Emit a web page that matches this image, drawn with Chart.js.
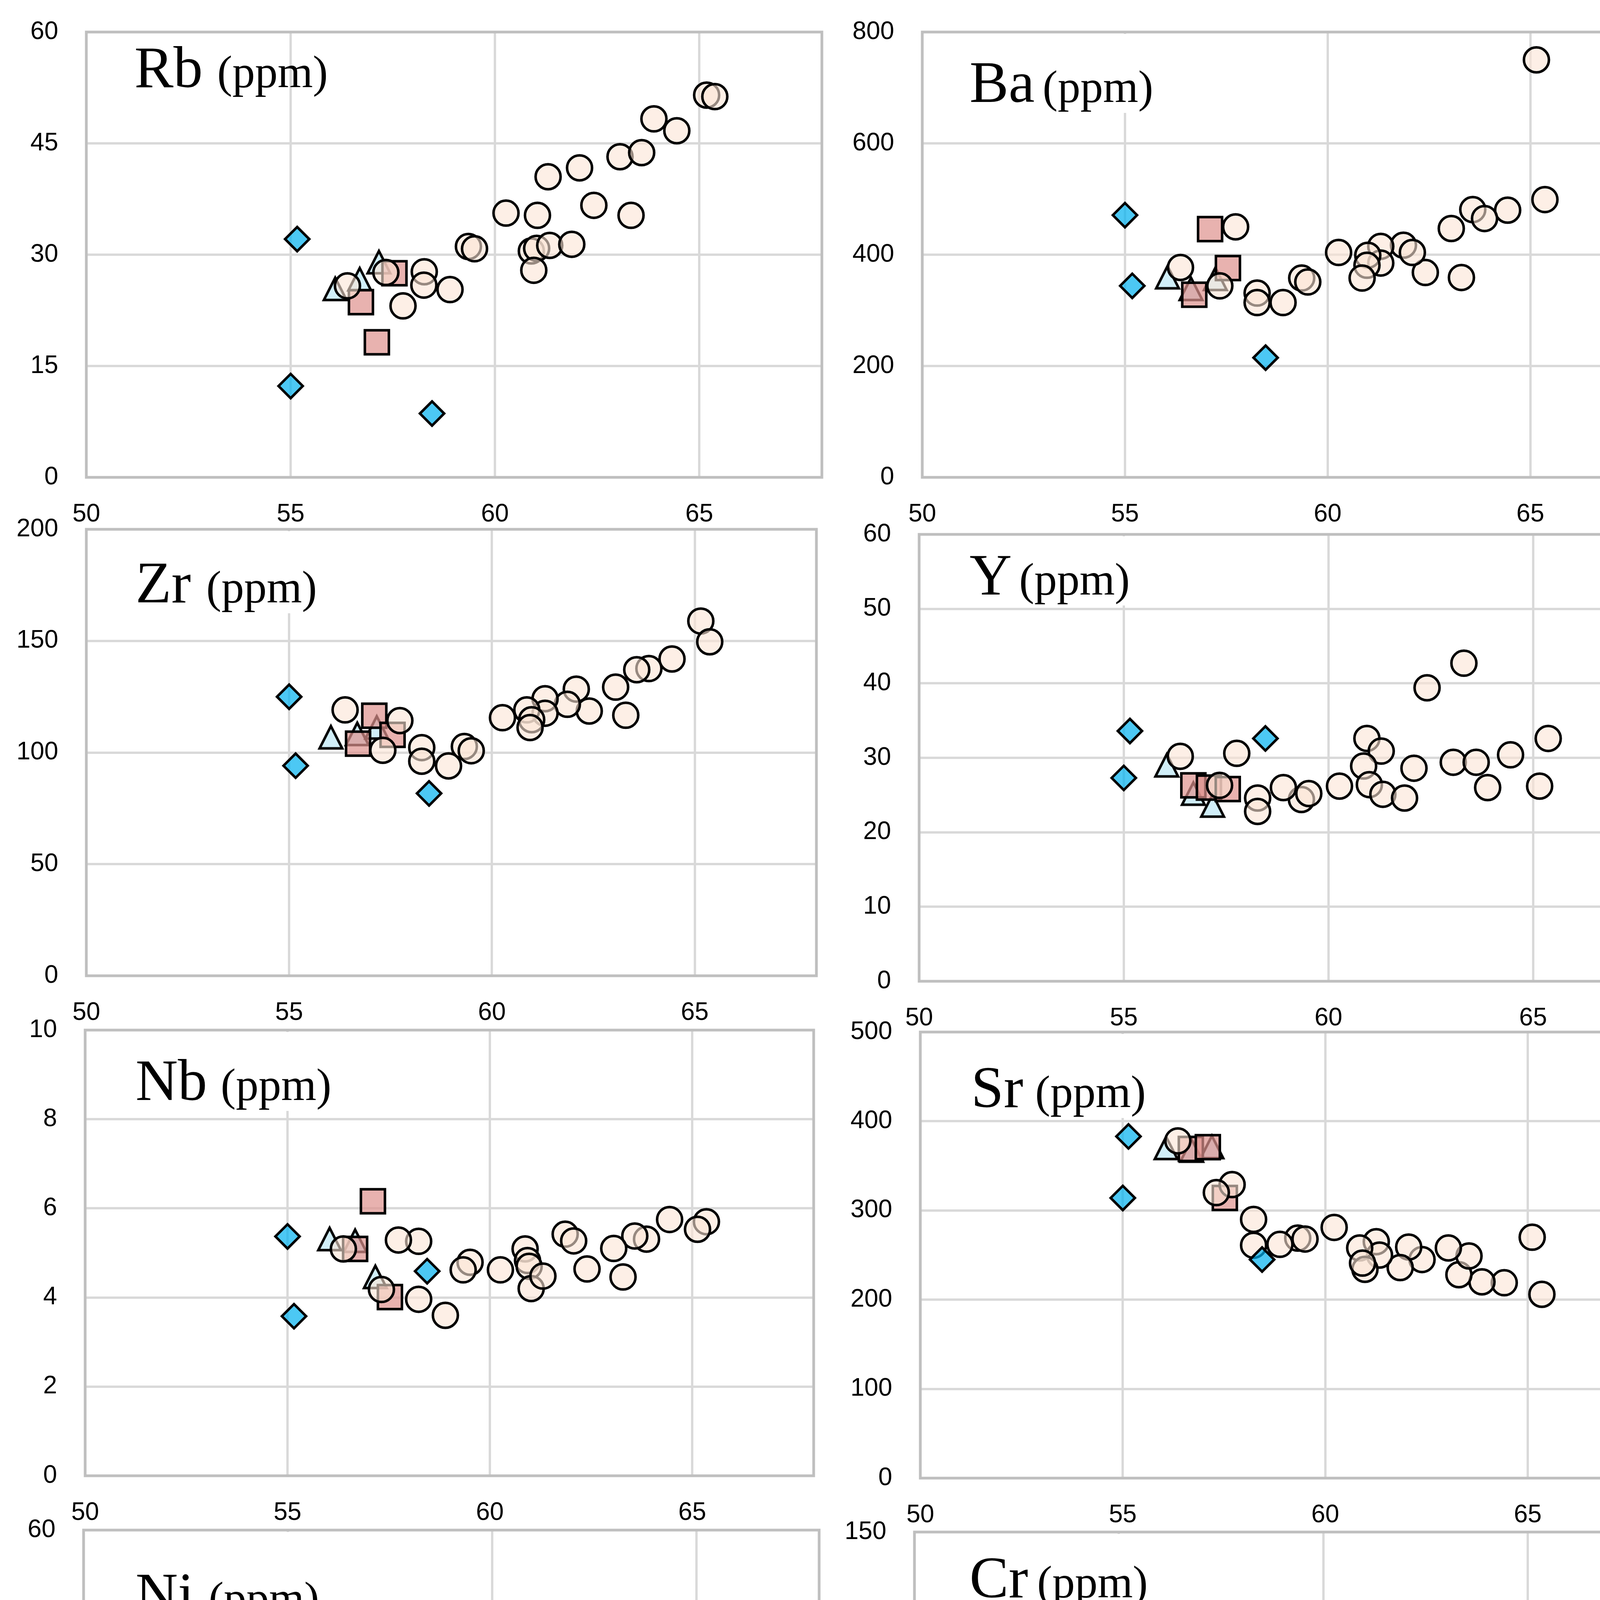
<!DOCTYPE html>
<html><head><meta charset="utf-8">
<script src="https://cdn.jsdelivr.net/npm/chart.js@4.4.1/dist/chart.umd.min.js"></script>
<style>
html,body{margin:0;padding:0;background:#fff;}
body{width:4270px;height:5727px;position:relative;overflow:hidden;}
canvas{position:absolute;}
#ov{position:absolute;left:0;top:0;z-index:10;}
</style></head><body>
<svg id="ov" width="4270" height="5727" xmlns="http://www.w3.org/2000/svg"></svg>
<script>
// ---------- data ----------
const seriesNames = ['CA two px BA to Dac','CA qtz-olv b.g. two px BA','TH qtz-olv b.g. two px BA','TH two px BA to And'];
const xTicks = [50,55,60,65];
const xMin = 50, xMax = 68;

const rbTicks = [0,15,30,45,60];
const rbCA  = [[65.18,51.5],[65.38,51.3],[63.89,48.3],[64.45,46.7],[63.06,43.2],[63.59,43.75],[62.07,41.7],[61.3,40.5],[60.27,35.6],[61.04,35.3],[62.42,36.65],[63.33,35.3],[59.35,31.1],[59.5,30.8],[60.89,30.5],[61.02,30.85],[61.34,31.25],[61.88,31.4],[60.95,27.9],[58.27,27.7],[58.26,25.9],[58.9,25.3],[57.33,27.6],[57.75,23.1],[56.39,25.8]];
const rbSq  = [[57.54,27.5],[56.72,23.6],[57.11,18.2]];
const rbTri = [[56.09,25.5],[56.69,26.8],[57.16,29.1]];
const rbDia = [[55.16,32.1],[55.0,12.3],[58.46,8.6]];

const baTicks = [0,200,400,600,800];
const baCA  = [[65.15,750],[65.36,499],[64.44,480],[63.58,481],[63.87,465],[63.05,447],[63.3,359],[62.41,368],[61.87,417],[62.09,404],[61.31,415],[61.31,385],[60.99,399],[60.97,381],[60.85,358],[60.27,404],[59.36,358],[59.51,351],[58.9,314],[58.26,331],[58.26,314],[57.73,450],[57.34,344],[56.37,377]];
const baSq  = [[57.1,446],[57.54,376],[56.71,328]];
const baTri = [[56.05,361],[56.63,340],[57.23,358]];
const baDia = [[55.0,471],[55.18,344],[58.47,215]];

const zrTicks = [0,50,100,150,200];
const zrCA  = [[65.15,158.9],[65.37,149.6],[64.44,141.9],[63.87,137.6],[63.57,137.1],[63.05,129.3],[63.3,116.7],[62.4,118.6],[62.08,128.4],[61.86,121.6],[61.31,124.1],[61.31,117.6],[60.86,119.1],[60.98,114.7],[60.94,111.2],[60.26,115.6],[59.32,102.7],[59.49,100.8],[58.93,94],[58.27,102.2],[58.27,96.1],[57.73,114.3],[57.31,101],[56.38,119.1]];
const zrSq  = [[57.1,116.5],[57.55,107.9],[56.7,104]];
const zrTri = [[56.03,107.2],[56.68,108.7],[57.16,111.6]];
const zrDia = [[55.0,125],[55.16,94.1],[58.45,81.7]];

const yTicks = [0,10,20,30,40,50,60];
const yCA  = [[63.31,42.7],[62.41,39.4],[65.37,32.6],[60.94,32.6],[61.29,30.9],[60.86,28.9],[61.0,26.4],[61.33,25.1],[61.86,24.6],[62.09,28.6],[63.05,29.4],[63.61,29.4],[64.45,30.4],[63.89,26.0],[65.16,26.2],[60.27,26.2],[59.34,24.4],[59.52,25.2],[58.9,26.0],[58.27,24.6],[58.27,22.8],[57.76,30.6],[57.34,26.3],[56.38,30.2]];
const ySq  = [[56.7,26.3],[57.08,26.0],[57.54,25.8]];
const yTri = [[56.05,29.1],[56.7,25.3],[57.17,23.7]];
const yDia = [[55.15,33.6],[55.0,27.3],[58.46,32.6]];

const nbTicks = [0,2,4,6,8,10];
const nbCA  = [[64.44,5.75],[65.35,5.7],[65.13,5.53],[63.87,5.31],[63.58,5.38],[63.06,5.1],[63.29,4.46],[62.4,4.64],[61.86,5.42],[62.07,5.27],[60.87,5.09],[60.93,4.83],[60.97,4.7],[61.02,4.2],[61.31,4.48],[60.26,4.62],[59.51,4.79],[59.34,4.62],[58.9,3.6],[58.24,3.96],[58.24,5.26],[57.74,5.29],[57.32,4.18],[56.38,5.09]];
const nbSq  = [[57.11,6.16],[56.67,5.09],[57.53,4.01]];
const nbTri = [[56.04,5.33],[56.67,5.29],[57.17,4.48]];
const nbDia = [[55.0,5.37],[55.16,3.58],[58.45,4.59]];

const srTicks = [0,100,200,300,400,500];
const srCA  = [[65.11,270],[65.35,206],[64.42,219],[63.87,220],[63.3,228],[63.55,249],[63.04,258],[62.39,245],[62.06,259],[61.85,236],[61.26,265],[61.34,250],[60.85,258],[60.98,234],[60.92,241],[60.22,281],[59.32,269],[59.5,268],[58.88,262],[58.23,290],[58.23,261],[57.7,329],[57.31,320],[56.36,378]];
const srSq  = [[57.52,314],[56.68,369],[57.1,371]];
const srTri = [[56.07,371],[56.7,368],[57.2,372]];
const srDia = [[55.14,383],[55.0,314],[58.44,245]];

const niTicks = [0,15,30,45,60];
const niCA  = [[58.24,47.3],[57.74,25.6],[56.36,22.6],[57.3,15.9],[58.23,16.7],[59.32,18.3],[59.5,15.0],[58.88,8.1],[60.25,19.9],[61.27,19.3],[60.94,17.7],[62.39,18.2],[62.09,15.8],[60.96,12.8],[61.33,12.8],[60.85,11.3],[61.86,12.75],[63.04,12.2],[63.3,9.5],[63.56,13.4],[63.89,13.7],[64.42,11.7],[65.15,11.5],[65.36,11.8]];
const niSq  = [[57.53,34.9],[56.7,24.8],[57.11,23.4]];
const niTri = [[56.03,26.3],[56.66,17.2],[57.15,22.6]];
const niDia = [[55.0,22.4],[55.15,11.7],[58.47,3.6]];

const crTicks = [0,30,60,90,120,150];
const crCA  = [[63.06,98.9],[56.37,75.8],[58.26,73.5],[57.31,61.5],[62.4,62.1],[63.32,64.0],[65.15,61.2],[63.89,54.2],[64.45,54.2],[57.74,49.8],[58.89,49.8],[59.49,45.9],[60.85,50.1],[61.0,47.0],[62.08,46.5],[58.26,42.1],[61.29,39.9],[59.34,33.2],[60.26,32.1],[63.59,33.0],[65.37,30.4],[60.95,29.5],[61.33,31.3],[61.04,25.6],[61.85,24.9]];
const crSq  = [[56.7,47.1],[57.1,37.5],[57.53,34.7]];
const crTri = [[56.67,50.7],[57.2,47.9],[56.05,32.8]];
const crDia = [[55.0,35.2],[55.16,29.5],[58.5,45.9]];

// ---------- layout ----------
const panels = [
 {name:'Rb', ca:rbCA, sq:rbSq, tri:rbTri, dia:rbDia, yt:rbTicks, L:221, T:82,  R:2104, B:1222, tx:344,  px:556,  ty:223,  box:false},
 {name:'Ba', ca:baCA, sq:baSq, tri:baTri, dia:baDia, yt:baTicks, L:2361,T:82,  R:4229, B:1222, tx:2482, px:2669, ty:261,  box:true},
 {name:'Zr', ca:zrCA, sq:zrSq, tri:zrTri, dia:zrDia, yt:zrTicks, L:221, T:1355,R:2090, B:2498, tx:347,  px:528,  ty:1542, box:true},
 {name:'Y',  ca:yCA,  sq:ySq,  tri:yTri,  dia:yDia,  yt:yTicks,  L:2353,T:1368,R:4239, B:2512, tx:2482, px:2609, ty:1522, box:true},
 {name:'Nb', ca:nbCA, sq:nbSq, tri:nbTri, dia:nbDia, yt:nbTicks, L:218, T:2637,R:2083, B:3778, tx:347,  px:565,  ty:2816, box:true},
 {name:'Sr', ca:srCA, sq:srSq, tri:srTri, dia:srDia, yt:srTicks, L:2356,T:2642,R:4222, B:3784, tx:2486, px:2650, ty:2834, box:true},
 {name:'Ni', ca:niCA, sq:niSq, tri:niTri, dia:niDia, yt:niTicks, L:214, T:3917,R:2097, B:5058, tx:347,  px:534,  ty:4130, box:true},
 {name:'Cr', ca:crCA, sq:crSq, tri:crTri, dia:crDia, yt:crTicks, L:2341,T:3922,R:4225, B:5064, tx:2482, px:2655, ty:4089, box:true}
];
const YW = 200, PT = 130, PR = 60, XH = 150;
const tickFont = {family:"'Liberation Sans', Arial, sans-serif", size:64};
const serif = "'Liberation Serif','Times New Roman',serif";

function triCanvas(){
  const c = document.createElement('canvas'); c.width = 84; c.height = 84;
  const g = c.getContext('2d');
  g.beginPath(); g.moveTo(42,15.5); g.lineTo(71,72.5); g.lineTo(13,72.5); g.closePath();
  g.fillStyle = 'rgba(188,231,245,0.7)'; g.fill();
  g.lineWidth = 6.5; g.strokeStyle = '#000'; g.lineJoin = 'miter'; g.stroke();
  return c;
}
const triImg = triCanvas();

const framePlugin = {
  id:'frame',
  beforeDatasetsDraw(chart){
    const {ctx, chartArea:a} = chart;
    ctx.save(); ctx.strokeStyle = '#bfbfbf'; ctx.lineWidth = 7;
    ctx.strokeRect(a.left, a.top, a.right - a.left, a.bottom - a.top);
    ctx.restore();
  }
};
const toXY = arr => arr.map(p => ({x:p[0], y:p[1]}));

panels.forEach(p => {
  const cv = document.createElement('canvas');
  const w = YW + (p.R - p.L) + PR, h = PT + (p.B - p.T) + XH;
  cv.width = w; cv.height = h;
  cv.style.width = w + 'px'; cv.style.height = h + 'px';
  cv.style.left = (p.L - YW) + 'px'; cv.style.top = (p.T - PT) + 'px';
  document.body.insertBefore(cv, document.getElementById('ov'));
  new Chart(cv, {
    type:'scatter',
    data:{datasets:[
      {label:seriesNames[3], data:toXY(p.dia), order:0, pointStyle:'rectRot', pointRadius:31,
       pointBackgroundColor:'rgba(0,176,240,0.7)', pointBorderColor:'#000', pointBorderWidth:6.5},
      {label:seriesNames[0], data:toXY(p.ca), order:1, pointStyle:'circle', pointRadius:32,
       pointBackgroundColor:'rgba(251,229,214,0.6)', pointBorderColor:'#000', pointBorderWidth:6.5},
      {label:seriesNames[1], data:toXY(p.sq), order:2, pointStyle:'rect', pointRadius:43.5,
       pointBackgroundColor:'rgba(222,145,141,0.7)', pointBorderColor:'#000', pointBorderWidth:6.5},
      {label:seriesNames[2], data:toXY(p.tri), order:3, pointStyle:triImg, pointRadius:32}
    ]},
    options:{
      responsive:false, animation:false, devicePixelRatio:1,
      layout:{padding:{left:0, top:PT, right:PR, bottom:0}},
      plugins:{legend:{display:false}, tooltip:{enabled:false}, title:{display:false}},
      scales:{
        x:{type:'linear', min:xMin, max:xMax,
           afterBuildTicks:s => { s.ticks = xTicks.map(v => ({value:v})); },
           afterFit:s => { s.height = XH; },
           ticks:{font:tickFont, color:'#000', padding:57, maxRotation:0, autoSkip:false},
           grid:{color:'#d9d9d9', lineWidth:6, drawTicks:false},
           border:{display:false}},
        y:{type:'linear', min:p.yt[0], max:p.yt[p.yt.length-1],
           afterBuildTicks:s => { s.ticks = p.yt.map(v => ({value:v})); },
           afterFit:s => { s.width = YW; },
           ticks:{font:tickFont, color:'#000', padding:72, autoSkip:false},
           grid:{color:'#d9d9d9', lineWidth:6, drawTicks:false},
           border:{display:false}}
      }
    },
    plugins:[framePlugin]
  });
});

// ---------- text overlay ----------
const NS = 'http://www.w3.org/2000/svg';
const ov = document.getElementById('ov');
function el(tag, attrs, parent){
  const e = document.createElementNS(NS, tag);
  for (const k in attrs) e.setAttribute(k, attrs[k]);
  (parent || ov).appendChild(e); return e;
}
function tspan(parent, txt, attrs){ const t = el('tspan', attrs, parent); t.textContent = txt; return t; }

panels.forEach(p => {
  const g = el('g', {});
  const rect = p.box ? el('rect', {fill:'#fff'}, g) : null;
  const t = el('text', {'font-family':serif, fill:'#000'}, g);
  tspan(t, p.name, {x:p.tx, y:p.ty, 'font-size':150});
  tspan(t, '(ppm)', {x:p.px, y:p.ty, 'font-size':116});
  if (rect){
    const bb = t.getBBox();
    const top = p.T + 5, bot = p.ty + 28;
    rect.setAttribute('x', bb.x - 20); rect.setAttribute('y', top);
    rect.setAttribute('width', bb.width + 40); rect.setAttribute('height', bot - top);
  }
});

// x-axis titles
[[965,5271],[3114,5271]].forEach(([x,y]) => {
  const t = el('text', {'font-family':serif, fill:'#000'});
  tspan(t, 'SiO', {x:x, y:y, 'font-size':150});
  tspan(t, '2', {x:x+226, y:y+34, 'font-size':88});
  tspan(t, '(wt%)', {x:x+313, y:y, 'font-size':116});
});

// legend
el('rect', {x:200, y:5313, width:3807, height:388, fill:'#fff', stroke:'#000', 'stroke-width':8});
el('circle', {cx:286, cy:5416, r:24, fill:'#fbeee6', stroke:'#0c2a3c', 'stroke-width':6});
el('rect', {x:266, y:5559, width:46, height:58, fill:'#e8b4b1', stroke:'#0c2a3c', 'stroke-width':8});
el('polygon', {points:'2180,5394 2203,5462 2157,5462', fill:'#cdebf6', stroke:'#000', 'stroke-width':5, 'stroke-linejoin':'miter'});
el('polygon', {points:'2180,5561 2202,5597 2180,5633 2158,5597', fill:'#4dc8f2', stroke:'#0c2a3c', 'stroke-width':5});
[[seriesNames[0],403,5472],[seriesNames[1],403,5645],[seriesNames[2],2311,5476],[seriesNames[3],2311,5648]].forEach(([s,x,y]) => {
  const t = el('text', {x:x, y:y, 'font-family':serif, 'font-size':146, fill:'#000'});
  t.textContent = s;
});
</script>
</body></html>
